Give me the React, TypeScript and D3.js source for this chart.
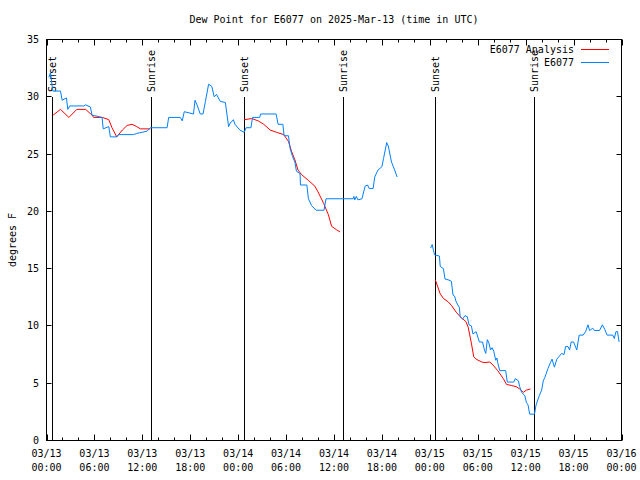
import React from "react";
import * as d3 from "d3";

// ---- data (hours since 03/13 00:00 UTC) ----
const obsHours = [
  0.29, 0.5, 0.79, 1.75, 1.96, 2.5, 2.67, 2.9, 4.67, 4.9, 5.5, 5.7, 6.96, 7.1, 7.8, 8.0, 8.8, 9.0, 10.9, 11.3,
  12.6, 13.0, 15.1, 15.3, 16.75, 17.0, 17.25, 18.4, 18.6, 18.9, 19.25, 19.6, 19.9, 20.3, 20.7, 21.0, 21.3,
  21.75, 22.4, 22.8, 23.0, 23.4, 23.6, 24.2, 24.75, 25.0, 25.6, 25.8, 26.7, 26.8, 28.75, 29.0, 29.6, 29.75,
  30.3, 30.5, 30.8, 31.1, 31.3, 31.75, 31.8, 32.6, 32.8, 33.2, 33.75, 34.75, 35.0, 38.4, 38.5, 38.6, 38.8,
  39.0, 39.5, 39.9, 40.2, 40.4, 40.9, 41.1, 41.5, 42.0, 42.2, 42.6, 42.8, 43.2, 43.6, 43.9,
  46.0,
  48.1, 48.3, 48.45, 48.6, 49.2, 49.3, 49.7, 49.9, 50.4, 50.7, 50.9, 51.1, 51.3, 51.7, 51.8, 52.1, 52.4,
  52.7, 52.9, 53.2, 53.4, 53.8, 54.2, 54.6, 54.8, 55.0, 55.2, 55.4, 55.6, 55.8, 56.0, 56.25, 56.4, 56.5,
  56.75, 57.5, 57.7, 58.5, 58.7, 59.1, 59.25, 59.5, 59.9, 60.1, 60.3, 60.5, 61.1, 61.3, 61.7, 62.0, 62.2,
  62.4, 62.8, 63.1, 63.3, 63.6, 63.9, 64.2, 64.5, 64.8, 65.0, 65.3, 65.5, 65.7, 66.0, 66.4, 66.7, 67.2,
  67.5, 67.8, 68.0, 68.4, 68.6, 69.25, 69.6, 69.9, 70.2, 70.9, 71.1, 71.3, 71.5, 71.7,
];
const obsValues = [
  31.7, 32.1, 30.5, 30.5, 29.7, 29.9, 28.9, 29.2, 29.2, 29.3, 29.1, 28.4, 28.2, 27.2, 27.4, 26.5, 26.5, 26.7, 26.7, 26.8,
  27.0, 27.3, 27.3, 28.2, 28.2, 27.9, 28.7, 28.5, 29.7, 29.2, 28.5, 28.5, 29.6, 31.1, 30.9, 30.0, 30.2,
  29.6, 29.5, 27.4, 27.7, 28.0, 27.6, 27.1, 26.9, 27.3, 27.3, 28.2, 28.2, 28.5, 28.5, 27.6, 27.6, 26.6,
  26.6, 25.5, 24.8, 24.3, 23.5, 23.3, 22.3, 22.3, 21.1, 20.5, 20.1, 20.1, 21.1, 21.1, 21.3, 21.0, 21.3,
  21.0, 21.1, 22.2, 22.3, 22.0, 22.0, 23.0, 23.6, 23.9, 24.6, 26.0, 25.7, 24.3, 23.6, 23.0,
  NaN,
  16.8, 17.1, 16.6, 16.2, 16.1, 15.2, 15.0, 14.1, 14.0, 13.9, 12.7, 12.6, 12.1, 11.6, 10.8, 10.6, 10.9,
  10.8, 10.1, 10.0, 9.3, 9.5, 8.6, 8.6, 8.0, 7.6, 8.8, 8.5, 7.9, 8.1, 7.8, 7.0, 7.2, 6.8,
  6.1, 6.1, 5.1, 5.1, 5.4, 5.2, 4.7, 4.2, 3.9, 3.3, 3.1, 2.3, 2.3, 3.1, 3.9, 4.4, 5.2,
  5.5, 6.3, 6.8, 7.1, 6.4, 7.1, 7.35, 7.6, 7.5, 8.2, 8.2, 7.9, 8.6, 8.6, 7.9, 9.2, 9.2,
  9.5, 10.1, 9.6, 9.8, 9.6, 9.6, 10.1, 9.7, 9.2, 9.2, 8.9, 9.5, 9.5, 8.6,
];

const anaHours = [
  0.83, 1.75, 2.8, 3.8, 4.9, 5.7, 5.9, 7.0, 7.8, 8.2, 8.8, 9.5, 10.1, 10.7, 11.3, 11.75, 13.0,
  18.0,
  24.75, 25.7, 26.5, 27.2, 28.0, 28.8, 29.7, 30.3, 30.7, 31.1, 31.5, 31.95, 32.8, 33.6, 34.0, 34.7, 35.3,
  35.7, 36.3, 36.75,
  42.0,
  48.7, 49.0, 49.3, 49.7, 50.3, 50.7, 51.3, 51.95, 52.5, 52.8, 53.2, 53.5, 53.8, 54.5, 54.9, 55.5, 55.9,
  56.5, 57.2, 57.6, 58.2, 58.8, 59.25, 59.7, 60.1, 60.6,
];
const anaValues = [
  28.4, 28.9, 28.2, 28.9, 28.9, 28.4, 28.2, 28.2, 28.0, 27.3, 26.5, 27.1, 27.5, 27.6, 27.4, 27.2, 27.2,
  NaN,
  28.0, 28.1, 27.9, 27.6, 27.1, 26.9, 26.7, 26.1, 25.2, 24.5, 23.6, 23.2, 22.7, 22.2, 21.7, 20.7, 19.7,
  18.7, 18.4, 18.2,
  NaN,
  14.0, 13.4, 12.8, 12.4, 12.1, 11.8, 11.2, 10.7, 10.4, 9.9, 8.5, 7.3, 7.1, 6.85, 6.8, 6.85, 6.6,
  6.1, 5.4, 4.9, 4.8, 4.7, 4.5, 4.2, 4.4, 4.5,
];

const sunEventHours = [0.75, 13.12, 24.75, 37.12, 48.7, 61.1];
const sunEventLabels = ["Sunset", "Sunrise", "Sunset", "Sunrise", "Sunset", "Sunrise"];

const xTickHours = [0, 6, 12, 18, 24, 30, 36, 42, 48, 54, 60, 66, 72];
const xTickDates = ["03/13", "03/13", "03/13", "03/13", "03/14", "03/14", "03/14", "03/14", "03/15", "03/15", "03/15", "03/15", "03/16"];
const xTickTimes = ["00:00", "06:00", "12:00", "18:00", "00:00", "06:00", "12:00", "18:00", "00:00", "06:00", "12:00", "18:00", "00:00"];
const yTicks = [0, 5, 10, 15, 20, 25, 30, 35];

const seriesNames = ["E6077 Analysis", "E6077"];
const seriesColors = ["#ff0000", "#0080ff"];

const title = "Dew Point for E6077 on 2025-Mar-13 (time in UTC)";
const yLabel = "degrees F";

const W = 640;
const H = 480;
const L = 46.5;
const R = 621.5;
const T = 39.5;
const B = 440.5;
const FONT = "'DejaVu Sans Mono', 'Liberation Mono', monospace";

export default function App() {
  const x = d3.scaleLinear().domain([0, 72]).range([L, R]);
  const y = d3.scaleLinear().domain([0, 35]).range([B, T]);

  const mk = (hs: number[], vs: number[]) =>
    d3
      .line<number>()
      .defined((i) => !isNaN(vs[i]))
      .x((i) => x(hs[i]))
      .y((i) => y(vs[i]))(d3.range(hs.length)) || "";

  const minorHours = d3.range(0, 73, 2);

  return (
    <svg
      width={W}
      height={H}
      style={{ position: "absolute", left: 0, top: 0, background: "#fff" }}
      fontFamily={FONT}
      fontSize={10}
    >
      <rect x={0} y={0} width={W} height={H} fill="#fff" />
      <text x={(L + R) / 2} y={23} textAnchor="middle" fill="#000">
        {title}
      </text>

      {/* x ticks */}
      {minorHours.map((h) => {
        const major = h % 6 === 0;
        const len = major ? 6 : 3;
        const xx = Math.round(x(h)) + 0.5;
        return (
          <g key={"mx" + h} stroke="#000" strokeWidth={1}>
            <line x1={xx} x2={xx} y1={B} y2={B - len} />
            <line x1={xx} x2={xx} y1={T} y2={T + len} />
          </g>
        );
      })}
      {xTickHours.map((h, i) => (
        <g key={"xl" + i}>
          <text x={x(h)} y={457} textAnchor="middle" fill="#000">
            {xTickDates[i]}
          </text>
          <text x={x(h)} y={471} textAnchor="middle" fill="#000">
            {xTickTimes[i]}
          </text>
        </g>
      ))}

      {/* y ticks */}
      {yTicks.map((v) => {
        const yy = Math.round(y(v) - 0.5) + 0.5;
        return (
          <g key={"y" + v}>
            <line x1={L} x2={L + 5} y1={yy} y2={yy} stroke="#000" />
            <line x1={R} x2={R - 5} y1={yy} y2={yy} stroke="#000" />
            <text x={39} y={y(v)} dy="0.35em" textAnchor="end" fill="#000">
              {v}
            </text>
          </g>
        );
      })}

      <text
        transform={`translate(12,${(T + B) / 2}) rotate(-90)`}
        textAnchor="middle"
        dy="0.35em"
        fill="#000"
      >
        {yLabel}
      </text>

      {/* sunrise / sunset markers */}
      {sunEventHours.map((h, i) => {
        const xx = Math.round(x(h)) + 0.5;
        return (
          <g key={"s" + i}>
            <line x1={xx} x2={xx} y1={97} y2={B} stroke="#000" strokeWidth={1} />
            <text
              transform={`translate(${xx},92) rotate(-90)`}
              textAnchor="start"
              dy="0.35em"
              fill="#000"
            >
              {sunEventLabels[i]}
            </text>
          </g>
        );
      })}

      {/* series */}
      <path d={mk(anaHours, anaValues)} fill="none" stroke={seriesColors[0]} strokeWidth={1} />
      <path d={mk(obsHours, obsValues)} fill="none" stroke={seriesColors[1]} strokeWidth={1} />

      {/* legend */}
      {seriesNames.map((n, i) => {
        const yy = 49 + i * 13;
        return (
          <g key={"lg" + i}>
            <text x={574} y={yy} dy="0.35em" textAnchor="end" fill="#000">
              {n}
            </text>
            <line x1={581} x2={609} y1={yy + 0.5} y2={yy + 0.5} stroke={seriesColors[i]} strokeWidth={1} />
          </g>
        );
      })}

      <rect x={L} y={T} width={R - L} height={B - T} fill="none" stroke="#000" strokeWidth={1} />
    </svg>
  );
}
